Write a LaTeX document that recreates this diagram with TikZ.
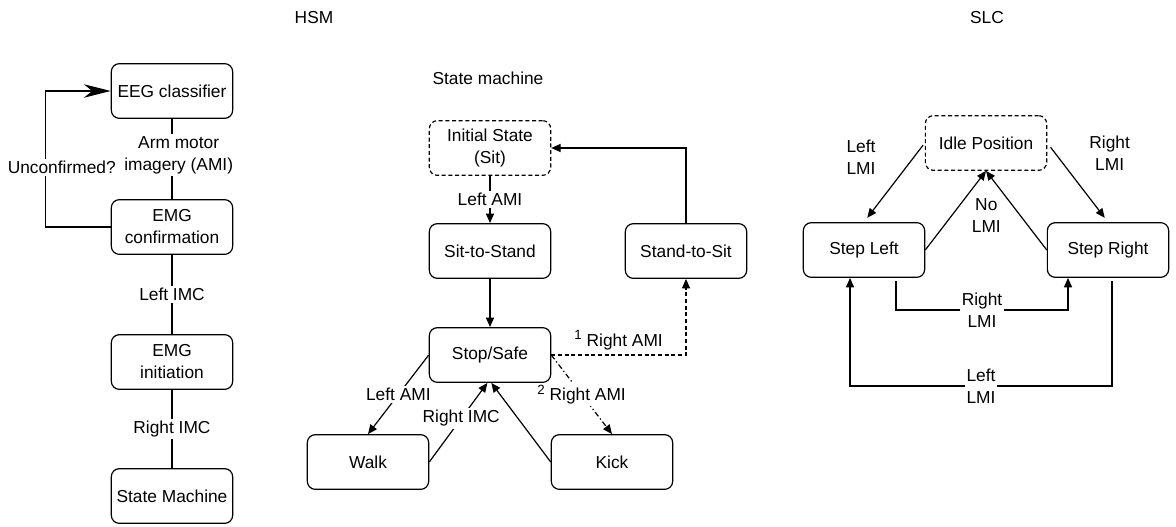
\documentclass[tikz,border=0pt]{standalone}
\usepackage{fontspec}
\setmainfont{Liberation Sans}
\usetikzlibrary{arrows.meta}

\tikzset{
  state/.style={draw, line width=0.9pt, rounded corners=6pt, minimum width=91pt,
    minimum height=41pt, align=center, inner sep=2pt},
  initstate/.style={state, dash pattern=on 3pt off 2pt},
  lbl/.style={fill=white, align=center, inner sep=1.5pt},
  side/.style={align=center, inner sep=1.5pt},
  arr/.style={line width=0.9pt, -{Triangle[length=7pt,width=6pt]}},
  bigarr/.style={line width=0.9pt, -{Stealth[length=20pt,width=10pt,inset=6pt]}},
  plain/.style={line width=0.9pt}
}
\newcommand{\upnum}[1]{\raisebox{5pt}{\fontsize{10}{10}\selectfont #1}}

\begin{document}
\begin{tikzpicture}[x=0.75pt, y=-0.75pt, font=\fontsize{13}{16.5}\selectfont]
  \useasboundingbox (0,0) rectangle (1176,527);

  % titles
  \node (hsm) at (314,18) {HSM};
  \node (slc) at (987,18) {SLC};
  \node (smtitle) at (488,78) {State machine};

  % HSM column
  \node[state] (eeg) at (172,91) {EEG classifier};
  \node[state] (emgconf) at (172,227) {EMG\\confirmation};
  \node[state] (emginit) at (172,362) {EMG\\initiation};
  \node[state] (statemach) at (172,496) {State Machine};

  \draw[plain] (eeg) -- node[lbl, yshift=3pt, xshift=5pt] {Arm motor\\imagery (AMI)} (emgconf);
  \draw[plain] (emgconf) -- node[lbl] {Left IMC} (emginit);
  \draw[plain] (emginit) -- node[lbl] {Right IMC} (statemach);
  \draw[bigarr] (emgconf.west) -- ++(-65,0) |- node[lbl, pos=0.22, xshift=12pt] {Unconfirmed?} (eeg.west);

  % state machine
  \node[initstate] (init) at (490,148) {Initial State\\(Sit)};
  \node[state] (sitstand) at (490,251) {Sit-to-Stand};
  \node[state] (standsit) at (686,251) {Stand-to-Sit};
  \node[state] (stopsafe) at (490,355) {Stop/Safe};
  \node[state] (walk) at (368,462) {Walk};
  \node[state] (kick) at (612,462) {Kick};

  \draw[arr] (init) -- node[lbl] {Left AMI} (sitstand);
  \draw[arr] (sitstand) -- (stopsafe);
  \draw[arr] (standsit.north) |- (init.east);
  \draw[arr, dash pattern=on 3pt off 2pt] (stopsafe.east) -| node[pos=0.25, above] {\upnum{1} Right AMI} (standsit.south);
  \draw[arr] (stopsafe.west) -- node[lbl] {Left AMI} (walk.north);
  \draw[arr] (walk.east) -- node[lbl, pos=0.55] {Right IMC} ([xshift=-2pt]stopsafe.south);
  \draw[arr] (kick.west) -- ([xshift=1pt]stopsafe.south);
  \draw[arr, dash pattern=on 4pt off 2pt on 1pt off 2pt] (stopsafe.east) -- node[lbl, pos=0.5] {\upnum{2} Right AMI} (kick.north);

  % SLC
  \node[initstate] (idle) at (986,143) {Idle Position};
  \node[state] (stepl) at (864,250) {Step Left};
  \node[state] (stepr) at (1108,250) {Step Right};

  \draw[arr, shorten <=2pt, shorten >=4pt] (idle.west) -- node[side, xshift=-25pt, yshift=19pt] {Left\\LMI} (stepl.north);
  \draw[arr, shorten <=4pt, shorten >=4pt] (idle.east) -- node[side, xshift=24pt, yshift=22pt] {Right\\LMI} (stepr.north);
  \draw[arr] (stepl.east) -- node[side, xshift=23pt, yshift=-4pt] {No\\LMI} (idle.south);
  \draw[arr] (stepr.west) -- (idle.south);
  \draw[arr] ([xshift=24pt]stepl.south) ++(0,3) -- ++(0,29) -| node[lbl, pos=0.25] {Right\\LMI} ([xshift=-30pt]stepr.south);
  \draw[arr] ([xshift=3pt]stepr.south) ++(0,3) -- ++(0,105) -| node[lbl, pos=0.25] {Left\\LMI} ([xshift=-10.5pt]stepl.south);
\end{tikzpicture}
\end{document}
